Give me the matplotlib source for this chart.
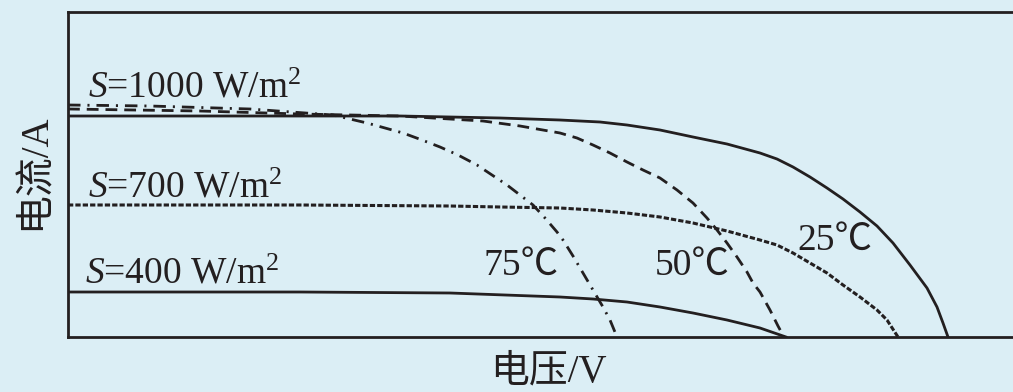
import matplotlib
matplotlib.use("Agg")
import matplotlib.pyplot as plt

plt.rcParams["font.family"] = ["Liberation Serif", "DejaVu Serif", "Noto Sans CJK SC"]
plt.rcParams["mathtext.fontset"] = "custom"
plt.rcParams["mathtext.rm"] = "Liberation Serif"
plt.rcParams["mathtext.it"] = "Liberation Serif:italic"
plt.rcParams["lines.scale_dashes"] = False

# I-V characteristics of a PV module (arbitrary units)
# S = 1000 W/m2, 25 C
v_1000_25 = [0, 18.2, 33.2, 38.2, 43.2, 49.2, 53.2, 55.9, 59.2, 62.5, 65.9, 69.2, 70.9,
             72.5, 74.2, 75.9, 77.5, 79.2, 80.9, 82.5, 84.2, 85.9, 86.9, 87.5, 88.0]
i_1000_25 = [22.1, 22.1, 22.1, 22.0, 21.9, 21.7, 21.5, 21.2, 20.7, 20.0, 19.3, 18.4, 17.8,
             17.0, 16.0, 14.9, 13.8, 12.5, 11.1, 9.4, 7.2, 4.9, 3.0, 1.4, 0.0]

# S = 1000 W/m2, 50 C
v_1000_50 = [0, 13.2, 23.2, 33.2, 41.5, 45.2, 49.2, 50.9, 52.5, 54.2, 55.9, 57.5, 59.2,
             60.9, 62.5, 63.9, 64.9, 65.9, 66.9, 67.9, 68.5, 69.2, 70.2, 71.0, 71.6]
i_1000_50 = [22.8, 22.6, 22.3, 22.1, 21.6, 21.1, 20.4, 19.9, 19.2, 18.4, 17.5, 16.7, 15.9,
             14.7, 13.4, 11.9, 10.7, 9.4, 8.0, 6.5, 5.4, 4.5, 2.7, 1.1, 0.0]

# S = 1000 W/m2, 75 C
v_1000_75 = [0, 8.2, 18.2, 26.5, 29.9, 31.7, 33.5, 35.4, 37.2, 39.0, 40.9, 42.4, 43.9,
             45.2, 46.5, 47.7, 48.9, 49.5, 50.5, 51.5, 52.5, 53.5, 54.2, 54.9]
i_1000_75 = [23.2, 23.1, 22.8, 22.2, 21.4, 20.9, 20.4, 19.7, 19.0, 18.2, 17.2, 16.2, 15.2,
             14.2, 13.2, 11.9, 10.5, 9.7, 8.1, 6.4, 4.7, 3.0, 1.7, 0.0]

# S = 700 W/m2, 25 C
v_700 = [0, 23.2, 38.2, 43.2, 49.2, 52.5, 55.9, 59.2, 62.5, 65.9, 69.2, 70.9, 72.5, 74.2,
         75.9, 77.5, 79.2, 80.9, 81.9, 83.0]
i_700 = [13.2, 13.2, 13.1, 13.0, 12.9, 12.7, 12.4, 12.0, 11.4, 10.6, 9.7, 9.2, 8.4, 7.4,
         6.4, 5.2, 4.0, 2.7, 1.7, 0.0]

# S = 400 W/m2, 25 C
v_400 = [0, 23.2, 38.2, 49.2, 52.5, 55.9, 59.2, 62.5, 65.9, 69.2, 71.8]
i_400 = [4.5, 4.5, 4.4, 4.0, 3.8, 3.5, 3.0, 2.4, 1.7, 0.9, 0.0]

ink = "#231f20"
bg = "#dbeef5"

fig = plt.figure(figsize=(10.13, 3.92), dpi=100, facecolor=bg)
ax = fig.add_axes([68 / 1013, 55 / 392, 1 - 68 / 1013, 325 / 392])
ax.set_facecolor(bg)
ax.set_xlim(0, 94.5)
ax.set_ylim(0, 32.5)
ax.set_xticks([])
ax.set_yticks([])
for side in ("left", "bottom", "top"):
    ax.spines[side].set_linewidth(2.0)
    ax.spines[side].set_color(ink)
ax.spines["right"].set_visible(False)

lw = 2.0
ax.plot(v_1000_25, i_1000_25, color=ink, lw=lw, solid_joinstyle="round")
ax.plot(v_1000_50, i_1000_50, color=ink, lw=lw, linestyle=(0, (8.5, 5.0)))
ax.plot(v_1000_75, i_1000_75, color=ink, lw=lw, linestyle=(0, (9.0, 5.0, 1.5, 5.0)))
ax.plot(v_700, i_700, color=ink, lw=2.2, linestyle=(0, (3.8, 1.5)))
ax.plot(v_400, i_400, color=ink, lw=lw, solid_joinstyle="round")

fs = 27
ax.text(2.0, 24.0, r"$S$=1000 W/m$^{2}$", fontsize=fs, color=ink, va="baseline", ha="left")
ax.text(2.0, 14.0, r"$S$=700 W/m$^{2}$", fontsize=fs, color=ink, va="baseline", ha="left")
ax.text(1.7, 5.4, r"$S$=400 W/m$^{2}$", fontsize=fs, color=ink, va="baseline", ha="left")

temp_font = ["Liberation Serif", "Noto Sans CJK SC"]
ax.text(41.6, 6.2, "75℃", fontsize=fs, color=ink, va="baseline", ha="left", family=temp_font)
ax.text(58.7, 6.2, "50℃", fontsize=fs, color=ink, va="baseline", ha="left", family=temp_font)
ax.text(72.9, 8.7, "25℃", fontsize=fs, color=ink, va="baseline", ha="left", family=temp_font)

lab_font = ["Liberation Serif", "Noto Sans CJK SC"]
fig.text(35 / 1013, 1 - 172 / 392, "电流/A", rotation=90, fontsize=28, color=ink,
         ha="center", va="center", family=lab_font)
fig.text(548 / 1013, 1 - 372 / 392, "电压/V", fontsize=28, color=ink,
         ha="center", va="center", family=lab_font)

fig.savefig("out.png", dpi=100, facecolor=bg)
